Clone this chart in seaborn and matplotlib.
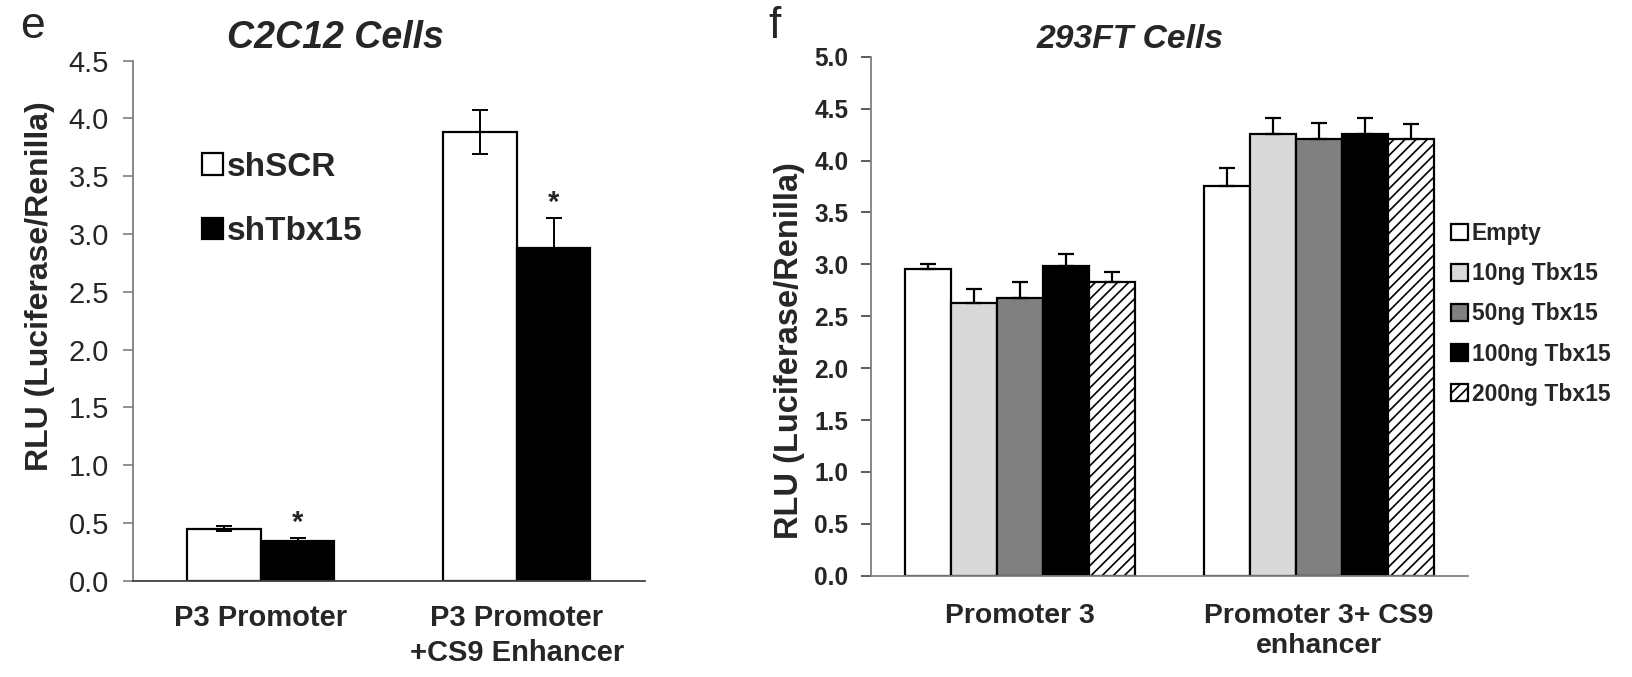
import numpy as np
import pandas as pd
import matplotlib
matplotlib.use("Agg")
import matplotlib.pyplot as plt
from matplotlib import font_manager
import seaborn as sns

# ---------------- data ----------------
left_categories = ["P3 Promoter", "P3 Promoter\n+CS9 Enhancer"]
left_groups = ["shSCR", "shTbx15"]
left_shSCR = [0.45, 3.88]
left_shTbx15 = [0.34, 2.88]
left_err_shSCR = [0.02, 0.19]
left_err_shTbx15 = [0.03, 0.26]
left_sig_shTbx15 = ["*", "*"]

right_categories = ["Promoter 3", "Promoter 3+ CS9\nenhancer"]
right_groups = ["Empty", "10ng Tbx15", "50ng Tbx15", "100ng Tbx15", "200ng Tbx15"]
right_empty = [2.95, 3.75]
right_10ng = [2.63, 4.26]
right_50ng = [2.68, 4.21]
right_100ng = [2.98, 4.26]
right_200ng = [2.83, 4.21]
right_err_empty = [0.05, 0.18]
right_err_10ng = [0.13, 0.15]
right_err_50ng = [0.15, 0.15]
right_err_100ng = [0.12, 0.15]
right_err_200ng = [0.10, 0.14]

left_yticks = [0.0, 0.5, 1.0, 1.5, 2.0, 2.5, 3.0, 3.5, 4.0, 4.5]
right_yticks = [0.0, 0.5, 1.0, 1.5, 2.0, 2.5, 3.0, 3.5, 4.0, 4.5, 5.0]

# ---------------- style ----------------
sns.set_theme(style="white")
plt.rcParams["font.family"] = ["Liberation Sans", "DejaVu Sans"]
plt.rcParams["hatch.linewidth"] = 1.2
plt.rcParams["hatch.color"] = "black"

names = {f.name for f in font_manager.fontManager.ttflist}
has_narrow = "Liberation Sans Narrow" in names
narrow = "Liberation Sans Narrow" if has_narrow else "Liberation Sans"
nscale = 1.0 if has_narrow else 0.93

W, H = 1633, 677
fig = plt.figure(figsize=(W / 100, H / 100), dpi=100)
fig.patch.set_facecolor("white")

def fx(px):
    return px / W

def fy(py):
    return 1 - py / H

axL = fig.add_axes([fx(132.7), fy(580.7), fx(645 - 132.7), (580.7 - 60.7) / H])
axR = fig.add_axes([fx(870.7), fy(575.7), fx(1468 - 870.7), (575.7 - 56.7) / H])

grey = "#7f7f7f"

# ---------------- left panel ----------------
dfL = pd.DataFrame({
    "cat": left_categories * 2,
    "grp": [left_groups[0]] * 2 + [left_groups[1]] * 2,
    "val": left_shSCR + left_shTbx15,
    "err": left_err_shSCR + left_err_shTbx15,
})
sns.barplot(data=dfL, x="cat", y="val", hue="grp", order=left_categories,
            hue_order=left_groups, palette=["white", "black"], errorbar=None,
            width=0.574, gap=0, edgecolor="black", linewidth=1.6, saturation=1,
            ax=axL, legend=True)

bars = [p for p in axL.patches if p.get_height() > 0]
bars = sorted(bars, key=lambda p: p.get_x())
order_vals = []
for ci in range(len(left_categories)):
    order_vals.append((left_shSCR[ci], left_err_shSCR[ci], None))
    order_vals.append((left_shTbx15[ci], left_err_shTbx15[ci], left_sig_shTbx15[ci]))
for p, (v, e, s) in zip(bars, order_vals):
    xc = p.get_x() + p.get_width() / 2
    axL.errorbar(xc, v, yerr=e, fmt="none", ecolor="black", elinewidth=1.4,
                 capsize=5.5, capthick=1.4, zorder=5)
    if s:
        axL.text(xc, v + e + 0.01, s, ha="center", va="bottom", fontsize=21,
                 fontweight="bold")

axL.set_xlim(-0.5, 1.5)
axL.set_ylim(0, 4.5)
axL.set_yticks(left_yticks)
axL.set_yticklabels([f"{t:.1f}" for t in left_yticks], fontsize=21)
axL.set_xticks(range(len(left_categories)))
axL.set_xticklabels(left_categories, fontsize=21, fontweight="bold", linespacing=1.3)
axL.set_xticks([-0.5, 0.5, 1.5], minor=True)
axL.tick_params(axis="x", which="major", length=0, pad=17)
axL.tick_params(axis="x", which="minor", length=9, width=1.2, color=grey, direction="out")
axL.tick_params(axis="y", length=7, width=1.2, color=grey, direction="out", pad=10,
                left=True)
axL.set_xlabel("")
axL.set_ylabel("RLU (Luciferase/Renilla)", fontsize=23, fontweight="bold")
axL.yaxis.set_label_coords(-0.152, 0.567)
for side in ["top", "right"]:
    axL.spines[side].set_visible(False)
for side in ["left", "bottom"]:
    axL.spines[side].set_color(grey)
    axL.spines[side].set_linewidth(1.3)
axL.spines["bottom"].set_color("#404040")

hL, lL = axL.get_legend_handles_labels()
axL.legend(hL, lL, loc="upper left", bbox_to_anchor=(fx(202), fy(152)),
           bbox_transform=fig.transFigure, frameon=False,
           prop={"weight": "bold", "size": 24}, handlelength=0.62, handleheight=0.62,
           handletextpad=0.12, labelspacing=1.0, borderpad=0, borderaxespad=0)

# ---------------- right panel ----------------
right_vals = [right_empty, right_10ng, right_50ng, right_100ng, right_200ng]
right_errs = [right_err_empty, right_err_10ng, right_err_50ng, right_err_100ng, right_err_200ng]
rows = []
for g, vals, errs in zip(right_groups, right_vals, right_errs):
    for c, v, e in zip(right_categories, vals, errs):
        rows.append({"cat": c, "grp": g, "val": v, "err": e})
dfR = pd.DataFrame(rows)
right_colors = ["white", "#d9d9d9", "#808080", "black", "white"]
sns.barplot(data=dfR, x="cat", y="val", hue="grp", order=right_categories,
            hue_order=right_groups, palette=right_colors, errorbar=None,
            width=0.77, gap=0, edgecolor="black", linewidth=1.6, saturation=1,
            ax=axR, legend=True)

barsR = [p for p in axR.patches if p.get_height() > 0]
for i, p in enumerate(barsR[: len(right_groups) * len(right_categories)]):
    gi = i // len(right_categories)
    ci = i % len(right_categories)
    if right_groups[gi] == "200ng Tbx15":
        p.set_hatch("///")
    xc = p.get_x() + p.get_width() / 2
    v = right_vals[gi][ci]
    e = right_errs[gi][ci]
    axR.errorbar(xc, v, yerr=[[0], [e]], fmt="none", ecolor="black", elinewidth=1.6,
                 capsize=5.5, capthick=1.6, zorder=5)

axR.set_xlim(-0.5, 1.5)
axR.set_ylim(0, 5.0)
axR.set_yticks(right_yticks)
axR.set_yticklabels([f"{t:.1f}" for t in right_yticks], fontsize=19 * nscale,
                    fontweight="bold", family=narrow)
axR.set_xticks(range(len(right_categories)))
axR.set_xticklabels(right_categories, fontsize=22 * nscale, fontweight="bold",
                    family=narrow, linespacing=1.2)
axR.set_xticks([-0.5, 0.5, 1.5], minor=True)
axR.tick_params(axis="x", which="major", length=0, pad=20)
axR.tick_params(axis="x", which="minor", length=9, width=1.2, color=grey, direction="out")
axR.tick_params(axis="y", length=7, width=1.2, color="#404040", direction="out", pad=9,
                left=True)
axR.set_xlabel("")
axR.set_ylabel("RLU (Luciferase/Renilla)", fontsize=23.5, fontweight="bold")
axR.yaxis.set_label_coords(-0.11, 0.433)
for side in ["top", "right"]:
    axR.spines[side].set_visible(False)
for side in ["left", "bottom"]:
    axR.spines[side].set_color(grey)
    axR.spines[side].set_linewidth(1.3)

hR, lR = axR.get_legend_handles_labels()
hR[-1].set_hatch("///")
axR.legend(hR, lR, loc="upper left", bbox_to_anchor=(fx(1451), fy(222)),
           bbox_transform=fig.transFigure, frameon=False,
           prop={"weight": "bold", "size": 16.5, "family": narrow},
           handlelength=0.75, handleheight=0.75, handletextpad=0.15,
           labelspacing=0.75, borderpad=0, borderaxespad=0)

# ---------------- titles and panel letters ----------------
fig.text(fx(335), fy(38), "C2C12 Cells", ha="center", va="center", fontsize=27,
         fontweight="bold", fontstyle="italic")
fig.text(fx(1130), fy(39), "293FT Cells", ha="center", va="center",
         fontsize=26 * nscale, fontweight="bold", fontstyle="italic", family=narrow)
fig.text(fx(20), fy(27), "e", ha="left", va="center", fontsize=32)
fig.text(fx(768), fy(27), "f", ha="left", va="center", fontsize=32)

fig.savefig("out.png", dpi=100, facecolor="white")
